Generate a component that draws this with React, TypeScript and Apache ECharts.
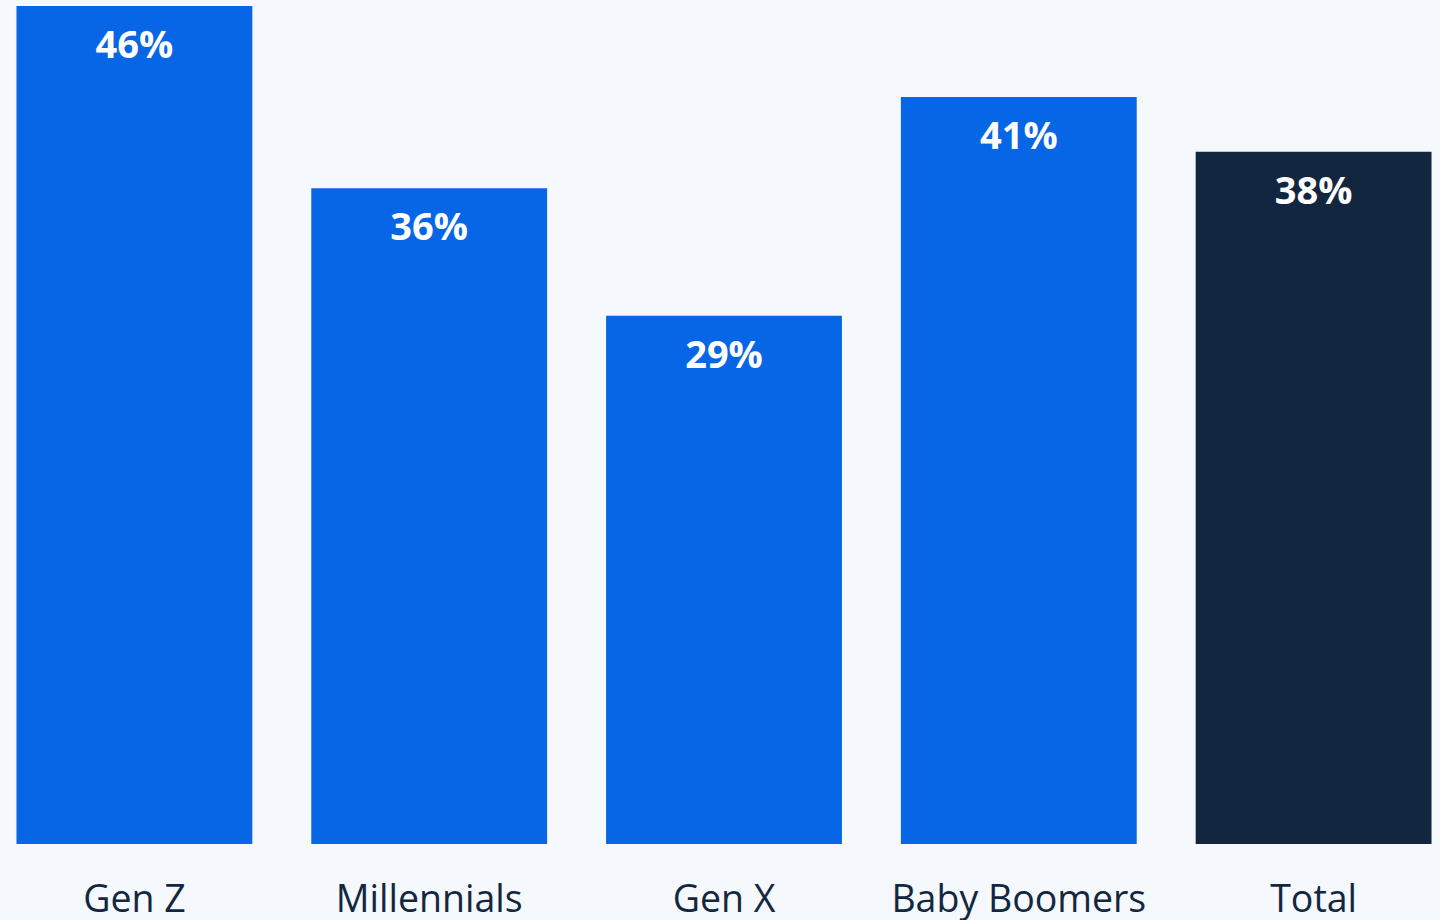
import React, { useEffect, useRef } from "react";
import * as echarts from "echarts";

const categories = ["Gen Z", "Millennials", "Gen X", "Baby Boomers", "Total"];
const values = [46, 36, 29, 41, 38];
const barColors = ["#0766e6", "#0766e6", "#0766e6", "#0766e6", "#12263f"];

export default function App() {
  const ref = useRef<HTMLDivElement>(null);
  useEffect(() => {
    if (!ref.current) return;
    const chart = echarts.init(ref.current, null, { renderer: "svg" });
    chart.setOption({
      animation: false,
      backgroundColor: "#f5f8fc",
      grid: { left: 0, right: 0, top: 6, bottom: 76, containLabel: false },
      xAxis: {
        type: "category",
        data: categories,
        axisLine: { show: false },
        axisTick: { show: false },
        axisLabel: {
          color: "#13273f",
          fontFamily: "Open Sans",
          fontSize: 37.5,
          margin: 34,
          interval: 0,
        },
      },
      yAxis: {
        type: "value",
        min: 0,
        max: 46,
        show: false,
        splitLine: { show: false },
      },
      series: [
        {
          type: "bar",
          data: values.map((v, i) => ({ value: v, itemStyle: { color: barColors[i] } })),
          barCategoryGap: "20%",
          label: {
            show: true,
            position: "insideTop",
            distance: 18,
            formatter: "{c}%",
            color: "#ffffff",
            fontFamily: "Open Sans",
            fontWeight: "bold",
            fontSize: 38,
          },
        },
      ],
    });
    return () => chart.dispose();
  }, []);
  return (
    <div
      style={{
        position: "fixed",
        left: 0,
        top: 0,
        width: 1440,
        height: 920,
        overflow: "hidden",
        background: "#f5f8fc",
      }}
    >
      <div
        ref={ref}
        style={{ position: "absolute", left: -13.4, top: 0, width: 1473.75, height: 920 }}
      />
    </div>
  );
}
